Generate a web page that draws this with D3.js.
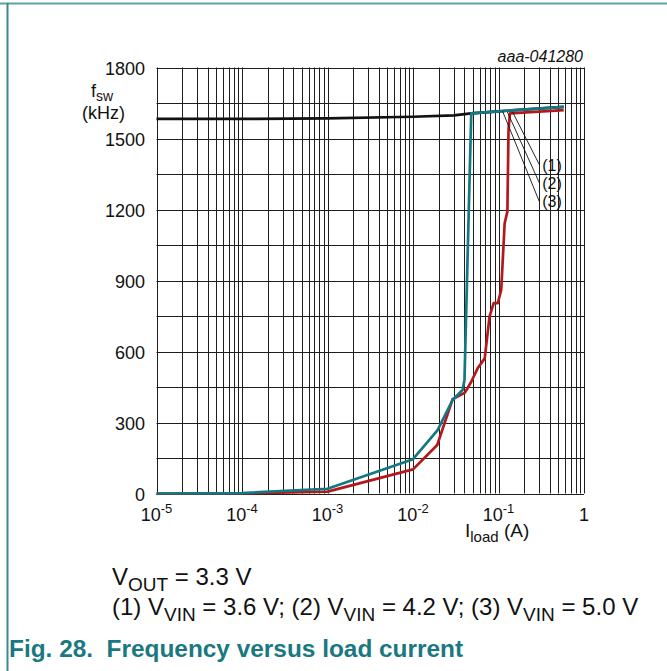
<!DOCTYPE html>
<html>
<head>
<meta charset="utf-8">
<script src="https://cdn.jsdelivr.net/npm/d3@7"></script>
<style>
  html, body { margin: 0; padding: 0; background: #ffffff; }
  svg { display: block; font-family: Arial, 'Liberation Sans', sans-serif; }
</style>
</head>
<body>
<div id="chart"></div>
<script>
// load current (A) and switching frequency (kHz)
const blackLoad = [1e-5, 1e-4, 1e-3, 1e-2, 0.03, 0.048, 0.1, 0.58];
const blackFsw = [1583, 1583, 1585, 1592, 1598, 1606, 1615, 1634];

const tealLoad = [1e-5, 1e-4, 1e-3, 1e-2, 0.0194, 0.029, 0.038, 0.040, 0.048, 0.1, 0.58];
const tealFsw = [0, 2, 20, 145, 268, 395, 437, 480, 1606, 1615, 1634];

const redLoad = [1e-5, 1e-4, 1e-3, 1e-2, 0.0192, 0.029, 0.0405, 0.048, 0.057, 0.069,
  0.0785, 0.0878, 0.098, 0.1076, 0.118, 0.127, 0.131, 0.136, 0.58];
const redFsw = [0, 0, 8, 102, 205, 398, 426, 472, 529, 571,
  747, 804, 804, 860, 1142, 1191, 1536, 1606, 1620];

const yTicks = [0, 300, 600, 900, 1200, 1500, 1800];
const xTickExps = [-5, -4, -3, -2, -1, 0];

// leader lines: start on the curves, end at the labels
const leaderLabels = ['(1)', '(2)', '(3)'];
const leaderStartLoad = [0.146, 0.127, 0.112];
const leaderStartFsw = [1612, 1612, 1614];
const leaderEndLoad = [0.30, 0.30, 0.30];
const leaderEndFsw = [1390, 1313, 1234];

const W = 667, H = 671;
const plot = { left: 156.5, right: 584, top: 67.5, bottom: 493.5 };

const svg = d3.select('#chart').append('svg')
  .attr('width', W).attr('height', H);

// page frame
svg.append('line')
  .attr('x1', 0).attr('x2', W).attr('y1', 3.5).attr('y2', 3.5)
  .attr('stroke', '#5aa3a9').attr('stroke-width', 2);
svg.append('line')
  .attr('x1', 7.5).attr('x2', 7.5).attr('y1', 3).attr('y2', H)
  .attr('stroke', '#3a8a91').attr('stroke-width', 2);

const x = d3.scaleLog().domain([1e-5, 1]).range([plot.left, plot.right]);
const y = d3.scaleLinear().domain([0, 1800]).range([plot.bottom, plot.top]);

const grid = svg.append('g').attr('class', 'grid');

// vertical grid: 1..9 per decade
const xGrid = [];
for (let e = -5; e < 0; e++) {
  for (let m = 1; m <= 9; m++) xGrid.push(m * Math.pow(10, e));
}
xGrid.push(1);
grid.selectAll('line.v').data(xGrid).enter().append('line')
  .attr('class', 'v')
  .attr('x1', d => Math.round(x(d)) + 0.5).attr('x2', d => Math.round(x(d)) + 0.5)
  .attr('y1', plot.top).attr('y2', plot.bottom)
  .attr('stroke', '#1e1e1e').attr('stroke-width', 1);

// horizontal grid every 150 kHz
grid.selectAll('line.h').data(d3.range(0, 1801, 150)).enter().append('line')
  .attr('class', 'h')
  .attr('x1', plot.left).attr('x2', plot.right)
  .attr('y1', d => Math.round(y(d)) + 0.5).attr('y2', d => Math.round(y(d)) + 0.5)
  .attr('stroke', '#1e1e1e').attr('stroke-width', 1);

// y tick labels
svg.append('g').selectAll('text').data(yTicks).enter().append('text')
  .attr('x', 145).attr('y', d => y(d) + 7)
  .attr('text-anchor', 'end').attr('font-size', 18).attr('fill', '#111')
  .text(d => d);

// x tick labels 10^n
const xl = svg.append('g').selectAll('text').data(xTickExps).enter().append('text')
  .attr('x', d => x(Math.pow(10, d)))
  .attr('y', 521)
  .attr('text-anchor', 'middle').attr('font-size', 18).attr('fill', '#111');
xl.each(function (d) {
  const t = d3.select(this);
  if (d === 0) { t.text('1'); return; }
  t.append('tspan').text('10');
  t.append('tspan').attr('dy', -8).attr('font-size', 13).text(d);
});

// axis titles
const yTitle = svg.append('text').attr('x', 91).attr('y', 97)
  .attr('font-size', 18).attr('fill', '#111');
yTitle.append('tspan').text('f');
yTitle.append('tspan').attr('dy', 4).attr('font-size', 14).text('sw');
svg.append('text').attr('x', 82).attr('y', 119)
  .attr('font-size', 18).attr('fill', '#111').text('(kHz)');

const xTitle = svg.append('text').attr('x', 465).attr('y', 537)
  .attr('font-size', 19).attr('fill', '#111');
xTitle.append('tspan').text('I');
xTitle.append('tspan').attr('dy', 5).attr('font-size', 15).text('load');
xTitle.append('tspan').attr('dy', -5).text(' (A)');

svg.append('text').attr('x', 583).attr('y', 62)
  .attr('text-anchor', 'end').attr('font-size', 16).attr('font-style', 'italic')
  .attr('fill', '#111').text('aaa-041280');

// curves
const line = d3.line().x(d => x(d[0])).y(d => y(d[1]));
const series = [
  { load: blackLoad, fsw: blackFsw, color: '#111111' },
  { load: redLoad, fsw: redFsw, color: '#b3191c' },
  { load: tealLoad, fsw: tealFsw, color: '#127882' },
];
svg.append('g').selectAll('path').data(series).enter().append('path')
  .attr('d', s => line(s.load.map((v, i) => [v, s.fsw[i]])))
  .attr('fill', 'none')
  .attr('stroke', s => s.color)
  .attr('stroke-width', 2.7)
  .attr('stroke-linejoin', 'round');

// leader lines and labels
const leaders = svg.append('g');
leaderLabels.forEach(function (lab, i) {
  leaders.append('line')
    .attr('x1', x(leaderStartLoad[i])).attr('y1', y(leaderStartFsw[i]))
    .attr('x2', x(leaderEndLoad[i])).attr('y2', y(leaderEndFsw[i]))
    .attr('stroke', '#111').attr('stroke-width', 0.9);
  leaders.append('text')
    .attr('x', x(leaderEndLoad[i]) + 3).attr('y', y(leaderEndFsw[i]) + 6)
    .attr('font-size', 16).attr('fill', '#111').text(lab);
});

// caption
const cap1 = svg.append('text').attr('x', 112).attr('y', 585)
  .attr('font-size', 24).attr('fill', '#111');
cap1.append('tspan').text('V');
cap1.append('tspan').attr('dy', 6).attr('font-size', 19).text('OUT');
cap1.append('tspan').attr('dy', -6).text(' = 3.3 V');

const cap2 = svg.append('text').attr('x', 112).attr('y', 615)
  .attr('font-size', 24).attr('fill', '#111');
[['(1) V', '3.6'], ['; (2) V', '4.2'], ['; (3) V', '5.0']].forEach(function (p) {
  cap2.append('tspan').attr('dy', 0).text(p[0]);
  cap2.append('tspan').attr('dy', 6).attr('font-size', 19).text('VIN');
  cap2.append('tspan').attr('dy', -6).text(' = ' + p[1] + ' V');
});

svg.append('text').attr('x', 9).attr('y', 657)
  .attr('font-size', 24.4).attr('font-weight', 'bold').attr('fill', '#1a7880')
  .attr('xml:space', 'preserve')
  .text('Fig. 28.  Frequency versus load current');
</script>
</body>
</html>
